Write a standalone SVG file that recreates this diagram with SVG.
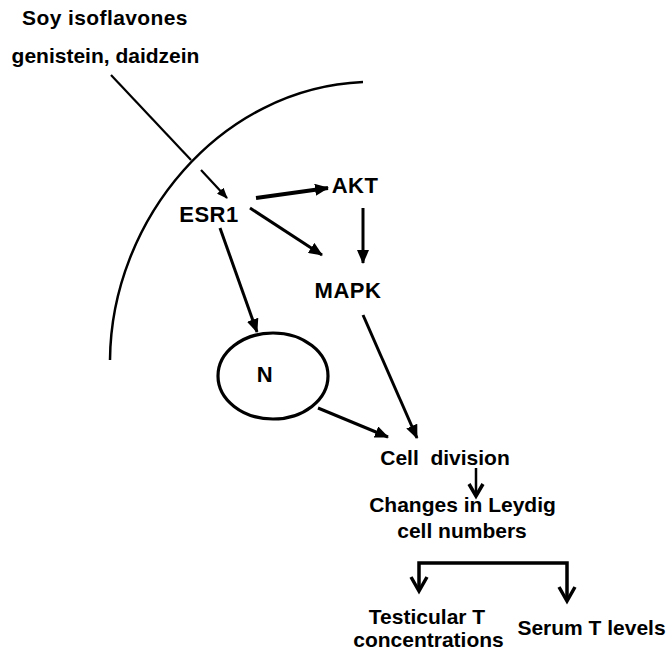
<svg xmlns="http://www.w3.org/2000/svg" width="668" height="654" viewBox="0 0 668 654">
<style>
text{font-family:"Liberation Sans",Arial,sans-serif;font-weight:bold;fill:#000;text-anchor:middle}
.big{font-size:22px;font-weight:bold;letter-spacing:0.5px}
.lbl{font-size:21px}
.ln{fill:none;stroke:#000;stroke-linecap:butt}
.ar{stroke-width:3}
.chev{fill:none;stroke:#000;stroke-width:3.5;stroke-linejoin:miter}
</style>
<defs>
<marker id="ah" viewBox="0 0 14 12" refX="13" refY="6" markerWidth="14" markerHeight="12" markerUnits="userSpaceOnUse" orient="auto">
<path d="M0,0 L14,6 L0,12 z" fill="#000"/>
</marker>
<marker id="ahs" viewBox="0 0 11 9" refX="10" refY="4.5" markerWidth="11" markerHeight="9" markerUnits="userSpaceOnUse" orient="auto">
<path d="M0,0 L11,4.5 L0,9 z" fill="#000"/>
</marker>
</defs>
<rect width="668" height="654" fill="#fff"/>
<g id="cell-membrane">
<path class="ln" d="M110,360 C111,220 220,88 363,82" stroke-width="2.5"/>
</g>
<g id="soy">
<text class="lbl" x="105" y="25" letter-spacing="0.4">Soy isoflavones</text>
<text class="lbl" x="105.5" y="63">genistein, daidzein</text>
</g>
<g id="esr1"><text class="big" x="209" y="222">ESR1</text></g>
<g id="akt"><text class="big" x="355" y="193">AKT</text></g>
<g id="mapk"><text class="big" x="348" y="298">MAPK</text></g>
<g id="nucleus">
<ellipse cx="273" cy="376" rx="55" ry="43" fill="none" stroke="#000" stroke-width="3.2"/>
<text class="big" x="265" y="382">N</text>
</g>
<g id="cell-division"><text class="lbl" x="445" y="465" xml:space="preserve">Cell  division</text></g>
<g id="leydig">
<text class="lbl" x="462.5" y="512">Changes in Leydig</text>
<text class="lbl" x="462" y="538">cell numbers</text>
</g>
<g id="testicular">
<text class="lbl" x="427" y="624">Testicular T</text>
<text class="lbl" x="428.5" y="647">concentrations</text>
</g>
<g id="serum"><text class="lbl" x="591.5" y="635">Serum T levels</text></g>
<g id="connectors">
<line class="ln" x1="111" y1="75" x2="191" y2="160" stroke-width="2.2"/>
<line class="ln" x1="201" y1="170" x2="227" y2="198" stroke-width="2.2" marker-end="url(#ahs)"/>
<line class="ln" x1="256" y1="198" x2="328" y2="188" stroke-width="4" marker-end="url(#ah)"/>
<line class="ln ar" x1="250" y1="208" x2="322" y2="255" marker-end="url(#ah)"/>
<line class="ln ar" x1="363" y1="208" x2="363" y2="263" marker-end="url(#ah)"/>
<line class="ln ar" x1="220" y1="228" x2="257" y2="332" marker-end="url(#ah)"/>
<line class="ln ar" x1="318" y1="408" x2="388" y2="437" marker-end="url(#ah)"/>
<line class="ln ar" x1="363" y1="315" x2="417" y2="438" marker-end="url(#ah)"/>
<line class="ln" x1="476" y1="468" x2="476" y2="496" stroke-width="2.5"/>
<polyline class="chev" points="469,484 476,496 483,484" stroke-width="2.8"/>
<polyline class="ln" points="419,590 419,563 567,563 567,600" stroke-width="3.5"/>
<polyline class="chev" points="411,577 419,591 427,577"/>
<polyline class="chev" points="559,587 567,601 575,587"/>
</g>
</svg>
